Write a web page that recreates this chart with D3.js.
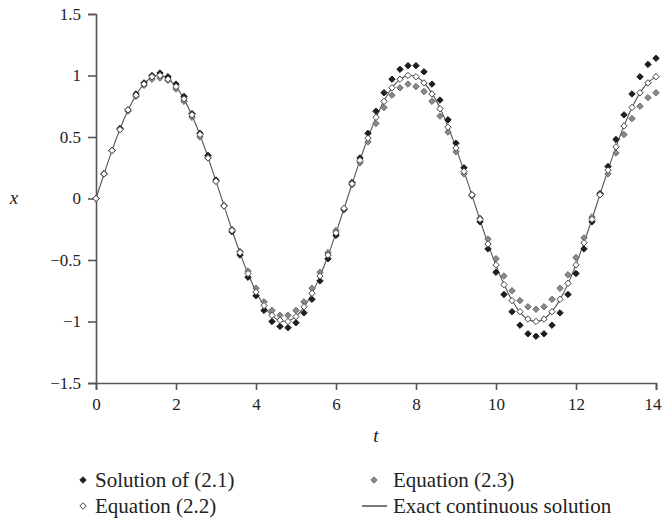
<!DOCTYPE html>
<html>
<head>
<meta charset="utf-8">
<script src="https://cdn.jsdelivr.net/npm/d3@7"></script>
<style>
  body { margin: 0; background: #fff; }
  svg text { font-family: "Liberation Serif", "DejaVu Serif", "Tinos", "Nimbus Roman", "FreeSerif", "Times New Roman", Times, serif; fill: #222; }
</style>
</head>
<body>
<svg id="chart" width="663" height="521"></svg>
<script>
// time grid, step 0.2 from 0 to 14
var tValues = d3.range(0, 71).map(function(i) { return +(i * 0.2).toFixed(1); });

// Solution of (2.1) - black diamonds (amplitude slowly grows)
var sol21 = [0, 0.20, 0.39, 0.57, 0.72, 0.85, 0.94, 1.00, 1.02, 0.99,
  0.93, 0.83, 0.69, 0.53, 0.35, 0.15, -0.06, -0.27, -0.46, -0.64,
  -0.79, -0.91, -1.00, -1.04, -1.05, -1.01, -0.93, -0.82, -0.67, -0.49,
  -0.30, -0.09, 0.13, 0.33, 0.53, 0.71, 0.86, 0.97, 1.05, 1.08,
  1.08, 1.03, 0.93, 0.80, 0.64, 0.45, 0.25, 0.03, -0.19, -0.41,
  -0.60, -0.78, -0.92, -1.03, -1.10, -1.12, -1.10, -1.03, -0.93, -0.78,
  -0.61, -0.41, -0.19, 0.04, 0.26, 0.48, 0.68, 0.85, 0.99, 1.09, 1.14];

// Equation (2.2) - white diamonds (on the exact curve)
var eq22 = [0, 0.20, 0.39, 0.56, 0.72, 0.84, 0.93, 0.99, 1.00, 0.97,
  0.91, 0.81, 0.68, 0.52, 0.33, 0.14, -0.06, -0.26, -0.44, -0.61,
  -0.76, -0.87, -0.95, -0.99, -1.00, -0.96, -0.88, -0.77, -0.63, -0.46,
  -0.28, -0.08, 0.12, 0.31, 0.49, 0.66, 0.79, 0.90, 0.97, 1.00,
  0.99, 0.94, 0.85, 0.73, 0.58, 0.41, 0.22, 0.03, -0.17, -0.37,
  -0.54, -0.70, -0.83, -0.92, -0.98, -1.00, -0.98, -0.92, -0.82, -0.69,
  -0.54, -0.36, -0.17, 0.03, 0.23, 0.42, 0.59, 0.74, 0.86, 0.94, 0.99];

// Equation (2.3) - gray diamonds (amplitude slowly decays)
var eq23 = [0, 0.20, 0.39, 0.56, 0.71, 0.83, 0.92, 0.97, 0.98, 0.96,
  0.89, 0.79, 0.66, 0.50, 0.33, 0.14, -0.06, -0.25, -0.43, -0.59,
  -0.73, -0.84, -0.91, -0.95, -0.95, -0.91, -0.84, -0.73, -0.60, -0.44,
  -0.26, -0.08, 0.11, 0.29, 0.46, 0.61, 0.74, 0.84, 0.90, 0.93,
  0.91, 0.87, 0.79, 0.67, 0.54, 0.38, 0.20, 0.02, -0.16, -0.33,
  -0.49, -0.63, -0.75, -0.83, -0.88, -0.90, -0.88, -0.82, -0.73, -0.62,
  -0.48, -0.32, -0.15, 0.03, 0.20, 0.37, 0.52, 0.65, 0.75, 0.82, 0.86];

// Exact continuous solution - line
var exact = [0, 0.199, 0.389, 0.565, 0.717, 0.841, 0.932, 0.985, 1.000, 0.974,
  0.909, 0.808, 0.675, 0.516, 0.335, 0.141, -0.058, -0.256, -0.443, -0.612,
  -0.757, -0.872, -0.952, -0.994, -0.996, -0.959, -0.883, -0.773, -0.631, -0.465,
  -0.279, -0.083, 0.117, 0.312, 0.494, 0.657, 0.794, 0.899, 0.968, 0.999,
  0.989, 0.941, 0.855, 0.735, 0.585, 0.412, 0.223, 0.025, -0.175, -0.367,
  -0.544, -0.699, -0.828, -0.925, -0.982, -1.000, -0.979, -0.918, -0.822, -0.694,
  -0.537, -0.359, -0.167, 0.033, 0.232, 0.420, 0.592, 0.740, 0.859, 0.943, 0.991];

var xTicks = [0, 2, 4, 6, 8, 10, 12, 14];
var yTicks = [-1.5, -1, -0.5, 0, 0.5, 1, 1.5];

var svg = d3.select("#chart");
var axisColor = "#555";

var x = d3.scaleLinear().domain([0, 14]).range([96, 656]);
var y = d3.scaleLinear().domain([-1.5, 1.5]).range([383, 14]);

var fmt = function(d) { return d < 0 ? "\u2212" + Math.abs(d) : String(d); };

// axes
var xAxis = svg.append("g")
    .attr("transform", "translate(0," + y(-1.5) + ")")
    .call(d3.axisBottom(x).tickValues(xTicks).tickSize(7).tickPadding(8).tickFormat(fmt));

var yAxis = svg.append("g")
    .attr("transform", "translate(" + x(0) + ",0)")
    .call(d3.axisLeft(y).tickValues(yTicks).tickSize(8).tickPadding(7).tickFormat(fmt));

[xAxis, yAxis].forEach(function(a) {
    a.attr("font-family", null).attr("font-size", 17);
    a.select(".domain").attr("stroke", axisColor).attr("stroke-width", 1.6);
    a.selectAll(".tick line").attr("stroke", axisColor).attr("stroke-width", 1.6);
    a.selectAll(".tick text").attr("fill", "#222");
});

// keep the last x label inside the picture
xAxis.selectAll(".tick text")
    .filter(function(d) { return d === 14; })
    .attr("text-anchor", "end").attr("dx", 5);

// axis titles
svg.append("text")
    .attr("x", 14).attr("y", 204)
    .attr("text-anchor", "middle")
    .attr("font-size", 19).attr("font-style", "italic")
    .text("x");

svg.append("text")
    .attr("x", 376).attr("y", 442)
    .attr("text-anchor", "middle")
    .attr("font-size", 19).attr("font-style", "italic")
    .text("t");

// exact solution line
var line = d3.line()
    .x(function(d, i) { return x(tValues[i]); })
    .y(function(d) { return y(d); })
    .curve(d3.curveNatural);

svg.append("path")
    .datum(exact)
    .attr("d", line)
    .attr("fill", "none")
    .attr("stroke", "#555")
    .attr("stroke-width", 1.1);

var diamond = d3.symbol().type(d3.symbolDiamond2).size(26);

var series = [
    { data: eq23, fill: "#8a8a8a", stroke: "#6a6a6a" },
    { data: sol21, fill: "#1e1e1e", stroke: "#1e1e1e" },
    { data: eq22, fill: "#ffffff", stroke: "#444" }
];

series.forEach(function(s) {
    svg.append("g").selectAll("path")
        .data(s.data)
        .enter().append("path")
        .attr("d", diamond)
        .attr("transform", function(d, i) {
            return "translate(" + x(tValues[i]) + "," + y(d) + ")"; })
        .attr("fill", s.fill)
        .attr("stroke", s.stroke)
        .attr("stroke-width", 1);
});

// legend
var legend = svg.append("g");
var legendItems = [
    { label: "Solution of (2.1)", x: 83, y: 480, fill: "#1e1e1e", stroke: "#1e1e1e" },
    { label: "Equation (2.2)", x: 83, y: 506, fill: "#ffffff", stroke: "#444" },
    { label: "Equation (2.3)", x: 374, y: 480, fill: "#8a8a8a", stroke: "#6a6a6a" },
    { label: "Exact continuous solution", x: 374, y: 506, line: true }
];

legendItems.forEach(function(d) {
    if (d.line) {
        legend.append("line")
            .attr("x1", d.x - 12).attr("x2", d.x + 13)
            .attr("y1", d.y).attr("y2", d.y)
            .attr("stroke", "#333").attr("stroke-width", 1.3);
    } else {
        legend.append("path")
            .attr("d", diamond)
            .attr("transform", "translate(" + d.x + "," + d.y + ")")
            .attr("fill", d.fill).attr("stroke", d.stroke);
    }
    legend.append("text")
        .attr("x", d.x < 200 ? 95 : 393)
        .attr("y", d.y + 7)
        .attr("font-size", 21)
        .text(d.label);
});
</script>
</body>
</html>
